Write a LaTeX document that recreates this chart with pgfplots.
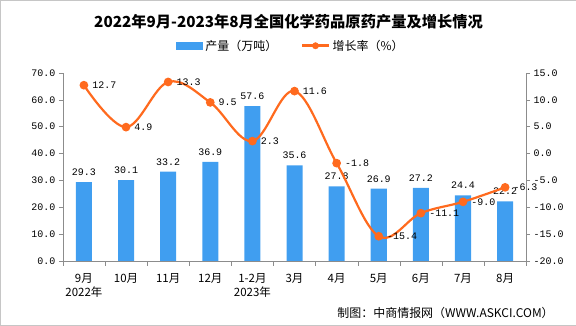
\documentclass[border=0pt]{standalone}
\usepackage{pgfplots}
\pgfplotsset{compat=1.18}
\usepackage{fontspec}
\setmainfont{Noto Sans CJK SC}
\newfontfamily\numfont{Liberation Mono}
\definecolor{barblue}{RGB}{64,158,240}
\definecolor{lineorange}{RGB}{255,106,30}
\definecolor{axgray}{RGB}{140,140,140}
\pgfplotstableread{
x val rate
0 29.3 12.7
1 30.1 4.9
2 33.2 13.3
3 36.9 9.5
4 57.6 2.3
5 35.6 11.6
6 27.8 -1.8
7 26.9 -15.4
8 27.2 -11.1
9 24.4 -9.0
10 22.2 -6.3
}\datatable
\tikzset{
  numfmt/.style={/pgf/number format/fixed,/pgf/number format/fixed zerofill,/pgf/number format/precision=1,/pgf/number format/assume math mode=true},
}
\begin{document}
\begin{tikzpicture}[x=1bp,y=1bp]
\draw[gray!45] (0.4,0.4) rectangle (575.6,325.6);
\node[font=\fontsize{15.3}{18}\selectfont\bfseries] at (288.5,304) {2022年9月-2023年8月全国化学药品原药产量及增长情况};
\node[anchor=east,font=\fontsize{12}{14}\selectfont] at (557,13) {制图：中商情报网（WWW.ASKCI.COM）};
\begin{axis}[
  at={(63bp,65bp)}, anchor=south west, scale only axis,
  width=463bp, height=188bp,
  xmin=-0.5, xmax=10.5, ymin=0, ymax=70,
  axis y line*=left, axis x line*=bottom,
  axis line style={axgray,-},
  ytick={0,10,...,70},
  yticklabel style={numfmt, font=\fontsize{10}{12}\numfont},
  every tick label/.append style={text=black},
  tick align=outside,
  major tick length=4bp,
  xtick={0,...,10},
  xticklabels={{9月\\2022年},10月,11月,12月,{1-2月\\2023年},3月,4月,5月,6月,7月,8月},
  xticklabel style={align=center, anchor=north, yshift=-5bp, font=\fontsize{11.5}{14.5}\selectfont},
  x tick style={draw=none},
  minor xtick={-0.5,0.5,...,10.5},
  minor x tick style={axgray, draw=axgray},
  minor tick length=5bp,
  y tick style={axgray},
  ybar, bar width=16bp,
  clip=false,
  nodes near coords,
  nodes near coords style={font=\fontsize{10}{12}\numfont, text=black, numfmt, yshift=3bp},
]
\addplot[fill=barblue, draw=none] table[x=x,y=val]{\datatable};
\end{axis}
\begin{axis}[
  at={(63bp,65bp)}, anchor=south west, scale only axis,
  width=463bp, height=188bp,
  xmin=-0.5, xmax=10.5, ymin=-20, ymax=15,
  axis y line*=right, axis x line=none,
  axis line style={axgray,-},
  ytick={-20,-15,...,15},
  yticklabel style={numfmt, font=\fontsize{10}{12}\numfont, text=black},
  tick align=outside, major tick length=4bp,
  y tick style={axgray},
  clip=false,
  legend columns=2,
  legend style={at={(rel axis cs:0.492,1.144)}, anchor=center, draw=none, fill=none,
    font=\fontsize{12}{14}\selectfont, column sep=1bp,
    /tikz/every even column/.append style={column sep=22bp}},
]
\addlegendimage{legend image code/.code={\fill[barblue] (0bp,-3.5bp) rectangle (26bp,3.5bp);}}
\addlegendentry{产量（万吨）}
\addlegendimage{legend image code/.code={\draw[lineorange,line width=2.5bp] (0bp,0bp) -- (26bp,0bp); \fill[lineorange] (13bp,0bp) circle (3.2bp);}}
\addlegendentry{增长率（\%）}
\addplot[lineorange, line width=2.2bp, smooth, tension=0.6, mark=*, mark size=3.2bp, mark options={fill=lineorange, draw=lineorange},
  nodes near coords, point meta=explicit,
  nodes near coords style={font=\fontsize{10}{12}\numfont, text=black, anchor=west, xshift=4bp, numfmt}]
  table[x=x,y=rate,meta=rate]{\datatable};
\end{axis}
\end{tikzpicture}
\end{document}
